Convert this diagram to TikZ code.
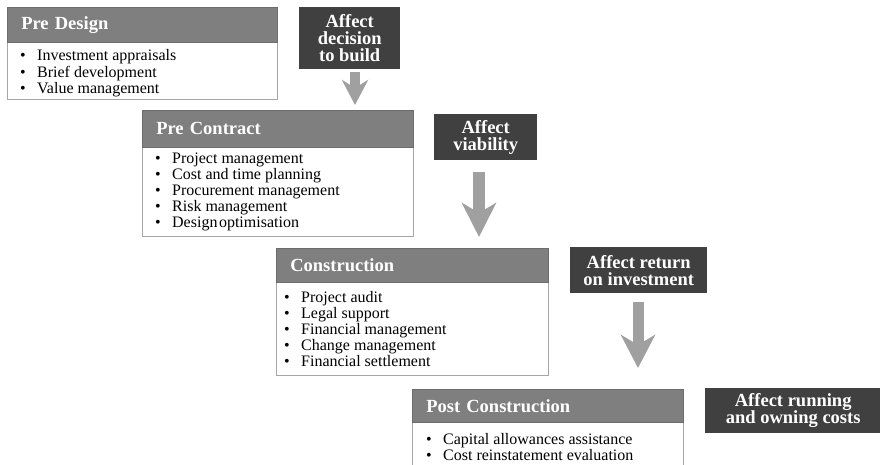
\documentclass[tikz,border=0pt]{standalone}
\usepackage{fontspec}
\setmainfont{Liberation Serif}
\usetikzlibrary{arrows.meta}
\definecolor{hdrgray}{HTML}{7F7F7F}
\definecolor{boxdark}{HTML}{404040}
\definecolor{framegray}{HTML}{A6A6A6}
\definecolor{arrowgray}{HTML}{A0A0A0}
\newcommand\bul{\strut\makebox[17pt][l]{\textbullet}}
\begin{document}
\begin{tikzpicture}[x=1pt,y=-1pt,
  stagehead/.style={fill=hdrgray, draw=hdrgray!85!black, line width=0.6pt,
    anchor=north west, inner xsep=14pt, inner ysep=0pt, align=left,
    text=white, font=\fontsize{18.5}{20}\selectfont\bfseries},
  stagebody/.style={draw=framegray, fill=white, anchor=north west,
    inner sep=0pt, line width=0.9pt},
  bullets/.style={anchor=north west, inner sep=0pt, align=left,
    font=\fontsize{16}{16}\selectfont},
  effect/.style={fill=boxdark, anchor=north west, text=white, align=center,
    inner sep=0pt, font=\fontsize{18.5}{17}\selectfont\bfseries,
    execute at begin node={\lineskiplimit=-20pt}},
  flow/.style={draw=arrowgray, line width=#1}
]
\useasboundingbox (0,0) rectangle (880,465);
\clip (0,0) rectangle (880,465);

% ---- Pre Design ----
\node[stagebody, minimum width=270pt, minimum height=57pt] (pdB) at (7,42) {};
\node[stagehead, text width=242pt, minimum height=35pt] (pdH) at (7,7) {Pre Design};
\node[bullets] (pdL) at (20,48.8) {\bul Investment appraisals\\\bul Brief development\\\bul Value management};

% ---- Pre Contract ----
\node[stagebody, minimum width=271pt, minimum height=89pt] (pcB) at (142,147) {};
\node[stagehead, text width=243pt, minimum height=37pt] (pcH) at (142,110) {Pre Contract};
\node[bullets] (pcL) at (155,151.8) {\bul Project management\\\bul Cost and time planning\\\bul Procurement management\\\bul Risk management\\\bul Design\kern1.5pt optimisation};

% ---- Construction ----
\node[stagebody, minimum width=272pt, minimum height=93pt] (coB) at (276,282) {};
\node[stagehead, text width=244pt, minimum height=34pt] (coH) at (276,248) {Construction};
\node[bullets] (coL) at (284,290.8) {\bul Project audit\\\bul Legal support\\\bul Financial management\\\bul Change management\\\bul Financial settlement};

% ---- Post Construction ----
\node[stagebody, minimum width=271pt, minimum height=60pt] (psB) at (412,422) {};
\node[stagehead, text width=243pt, minimum height=33pt] (psH) at (412,389) {Post Construction};
\node[bullets] (psL) at (426,432.8) {\bul Capital allowances assistance\\\bul Cost reinstatement evaluation};

% ---- effects ----
\node[effect, minimum width=101pt, minimum height=62pt] (eA) at (299,7) {Affect\\decision\\to build};
\node[effect, minimum width=103pt, minimum height=46pt] (eB) at (434,114) {Affect\\viability};
\node[effect, minimum width=137pt, minimum height=46pt] (eC) at (570,247) {Affect return\\on investment};
\node[effect, minimum width=176pt, minimum height=45pt] (eD) at (705,388) {Affect running\\and owning costs};

% ---- downward arrows ----
\coordinate (aAs) at (355,72);  \coordinate (aAe) at (355,105);
\coordinate (aBs) at (479,172); \coordinate (aBe) at (479,237);
\coordinate (aCs) at (638,302); \coordinate (aCe) at (638,368);
\draw[flow=10pt, -{Stealth[length=25pt 0, width=26pt 0, inset=8pt 0, fill=arrowgray]}] (aAs) -- (aAe);
\draw[flow=12pt, -{Stealth[length=34pt 0, width=34pt 0, inset=10pt 0, fill=arrowgray]}] (aBs) -- (aBe);
\draw[flow=11pt, -{Stealth[length=33pt 0, width=34pt 0, inset=10pt 0, fill=arrowgray]}] (aCs) -- (aCe);
\end{tikzpicture}
\end{document}
